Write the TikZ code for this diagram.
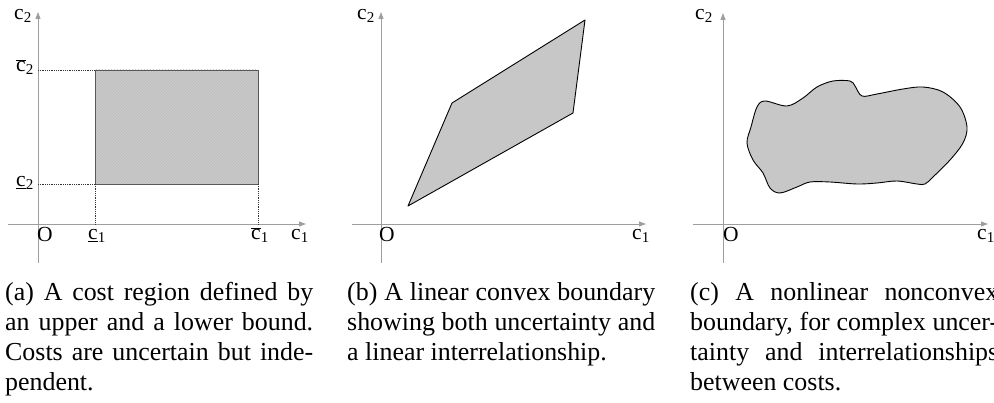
\documentclass[tikz,border=0pt]{standalone}
\usepackage{fontspec}
\setmainfont{Liberation Serif}
\usetikzlibrary{arrows.meta,patterns}
\begin{document}
\begin{tikzpicture}[x=1pt,y=-1pt,
  axis/.style={draw=black!38, line width=0.9pt, -{Triangle[length=7pt,width=5pt]}},
  lbl/.style={inner sep=0pt, font=\fontsize{21.5}{25}\selectfont},
  capline/.style={inner sep=0pt, anchor=base west, font=\fontsize{25.9}{30}\selectfont},
  guide/.style={draw=black!80, line width=0.8pt, densely dotted},
  region/.style={fill=black!22, draw=black, line width=0.9pt, line join=round}]
\useasboundingbox (0,0) rectangle (994,403);
% ---------- panel (a)
\coordinate (ax0) at (8,224); \coordinate (ax1) at (306,224);
\coordinate (ay0) at (38,263); \coordinate (ay1) at (38,12);
\draw[axis] (ax0) -- (ax1);
\draw[axis] (ay0) -- (ay1);
\coordinate (r1) at (95,184); \coordinate (r2) at (258,184);
\coordinate (r3) at (258,70); \coordinate (r4) at (95,70);
\coordinate (ya) at (38,70); \coordinate (yb) at (38,184);
\coordinate (xa) at (95,224); \coordinate (xb) at (258,224);
\fill[black!21] (r1) rectangle (r3);
\fill[pattern=north east lines, pattern color=black!25] (r1) rectangle (r3);
\draw[draw=black!65, line width=0.9pt] (r1) -- (r2) -- (r3) -- (r4) -- cycle;
\draw[guide] (ya) -- (r4);
\draw[guide] (yb) -- (r1);
\draw[guide] (r1) -- (xa);
\draw[guide] (r2) -- (xb);
\node[lbl] (la2) at (23,16) {c\textsubscript{2}};
\node[lbl] (la2u) at (25,67) {$\overline{\hbox{c}}$\textsubscript{2}};
\node[lbl] (la2l) at (25,183) {\underline{c}\textsubscript{2}};
\node[lbl] (laO) at (45,234) {O};
\node[lbl] (la1l) at (97,236) {\underline{c}\textsubscript{1}};
\node[lbl] (la1u) at (260,235) {$\overline{\hbox{c}}$\textsubscript{1}};
\node[lbl] (la1) at (300,236) {c\textsubscript{1}};
% ---------- panel (b)
\coordinate (bx0) at (352,224); \coordinate (bx1) at (646,224);
\coordinate (by0) at (381,263); \coordinate (by1) at (381,12);
\draw[axis] (bx0) -- (bx1);
\draw[axis] (by0) -- (by1);
\coordinate (p1) at (408,206); \coordinate (p2) at (452,103);
\coordinate (p3) at (585,20); \coordinate (p4) at (573,113);
\draw[region] (p1) -- (p2) -- (p3) -- (p4) -- cycle;
\node[lbl] (lb2) at (366,16) {c\textsubscript{2}};
\node[lbl] (lbO) at (387,234) {O};
\node[lbl] (lb1) at (641,236) {c\textsubscript{1}};
% ---------- panel (c)
\coordinate (cx0) at (693,224); \coordinate (cx1) at (988,224);
\coordinate (cy0) at (723,263); \coordinate (cy1) at (723,13);
\draw[axis] (cx0) -- (cx1);
\draw[axis] (cy0) -- (cy1);
\draw[region] plot[smooth cycle, tension=0.55] coordinates {
 (747,143) (751,127) (757,107) (765,101) (787,106) (803,98) (817,87)
 (833,81) (850,81) (855,86) (862,96) (877,94) (903,89) (923,87)
 (943,92) (960,107) (967,127) (963,143) (950,160) (933,177) (925,184)
 (917,184) (897,181) (877,183) (857,184) (830,182) (810,182) (797,187)
 (780,193) (770,188) (763,173) (753,160)};
\node[lbl] (lc2) at (704,16) {c\textsubscript{2}};
\node[lbl] (lcO) at (731,234) {O};
\node[lbl] (lc1) at (986,236) {c\textsubscript{1}};
% ---------- captions
\node[capline] (ca1) at (5,301) {\makebox[308pt][s]{(a) A cost region defined by}};
\node[capline] (ca2) at (5,331) {\makebox[308pt][s]{an upper and a lower bound.}};
\node[capline] (ca3) at (5,361) {\makebox[308pt][s]{Costs are uncertain but inde-}};
\node[capline] (ca4) at (5,391) {pendent.};
\node[capline] (cb1) at (347,301) {\makebox[308pt][s]{(b) A linear convex boundary}};
\node[capline] (cb2) at (347,331) {\makebox[308pt][s]{showing both uncertainty and}};
\node[capline] (cb3) at (347,361) {a linear interrelationship.};
\node[capline] (cc1) at (690,301) {\makebox[308pt][s]{(c) A nonlinear nonconvex}};
\node[capline] (cc2) at (690,331) {\makebox[308pt][s]{boundary, for complex uncer-}};
\node[capline] (cc3) at (690,361) {\makebox[308pt][s]{tainty and interrelationships}};
\node[capline] (cc4) at (690,391) {between costs.};
\end{tikzpicture}
\end{document}
